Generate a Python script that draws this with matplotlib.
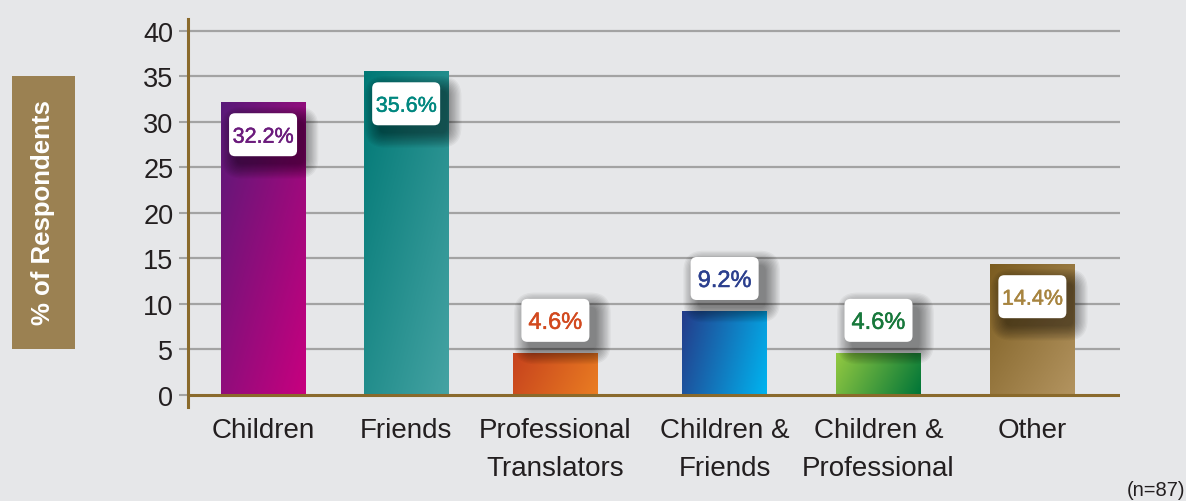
import matplotlib.pyplot as plt
import numpy as np
from matplotlib.colors import LinearSegmentedColormap
from matplotlib.patches import Rectangle, FancyBboxPatch
from matplotlib.transforms import IdentityTransform
import matplotlib.patheffects as pe

categories = ['Children', 'Friends', 'Professional\nTranslators', 'Children &\nFriends',
              'Children &\nProfessional', 'Other']
values = [32.2, 35.6, 4.6, 9.2, 4.6, 14.4]
labels = ['32.2%', '35.6%', '4.6%', '9.2%', '4.6%', '14.4%']
yticks = [0, 5, 10, 15, 20, 25, 30, 35, 40]

# gradient (start, end) for each bar and the label text colour
grad_colors = [('#581a78', '#c8007f'), ('#007875', '#45a3a3'), ('#c6421d', '#ea7d22'),
               ('#243c8a', '#00b4f0'), ('#93c941', '#007538'), ('#7b5c20', '#b39460')]
grad_dirs = ['diag', 'diag', 'horiz', 'horiz', 'horiz', 'diag']
text_colors = ['#6b1b7c', '#00877f', '#d2491e', '#2b3f8e', '#17783b', '#a7843f']

bg = '#e6e7e9'
brown = '#8a6a2c'

plt.rcParams['font.family'] = ['Liberation Sans', 'DejaVu Sans']

fig = plt.figure(figsize=(11.86, 5.02), dpi=100, facecolor=bg)
ax = fig.add_axes([0.1585, 0.1873, 0.9444 - 0.1585, 0.9602 - 0.1873])
ax.set_facecolor(bg)

# bar centres as laid out in the original (slightly uneven)
x = np.array([0, 0.93, 1.90, 3.0, 4.0, 5.0])
width = 0.55

for t in yticks[1:]:
    ax.axhline(t, color='#a3a3a3', lw=1.6, zorder=1)
ax.axhline(0, color=brown, lw=2.2, zorder=4)

bars = ax.bar(x, values, width=width, color='none', zorder=2)

gx, gy = np.meshgrid(np.linspace(0, 1, 100), np.linspace(0, 1, 100))
for i, b in enumerate(bars):
    if grad_dirs[i] == 'diag':
        g = gx * 0.5 + gy * 0.5
    else:
        g = gx * 0.8 + gy * 0.2
    cmap = LinearSegmentedColormap.from_list('g%d' % i, grad_colors[i])
    x0, y0 = b.get_x(), b.get_y()
    w, h = b.get_width(), b.get_height()
    im = ax.imshow(g, cmap=cmap, extent=[x0, x0 + w, y0, y0 + h], origin='upper',
                   aspect='auto', zorder=2, interpolation='bilinear')
    im.set_clip_path(Rectangle((x0, y0), w, h, transform=ax.transData))

ax.set_xlim(-0.488, 5.57)
ax.set_ylim(-1.32, 41.32)

# value labels: white rounded boxes with a soft shadow, sized in pixels
bw, bh = 68, 43
for i, v in enumerate(values):
    ly = v - 3.6 if v > 12 else v + 3.6
    cx, cy = ax.transData.transform((x[i], ly))
    for k in range(12):
        e = k * 1.3
        sh = FancyBboxPatch((cx - bw / 2 + 7 - e, cy - bh / 2 - 8 - e), bw + 2 * e, bh + 2 * e,
                            boxstyle='round,pad=0,rounding_size=%f' % (6 + e),
                            transform=IdentityTransform(), fc='black', ec='none',
                            alpha=0.045, zorder=5)
        ax.add_patch(sh)
    box = FancyBboxPatch((cx - bw / 2, cy - bh / 2), bw, bh,
                         boxstyle='round,pad=0,rounding_size=6',
                         transform=IdentityTransform(), fc='white', ec='none', zorder=6)
    ax.add_patch(box)
    fs = 17 if len(labels[i]) < 5 else 15.5
    ax.text(x[i], ly, labels[i], fontsize=fs, color=text_colors[i], ha='center',
            va='center_baseline', zorder=7,
            path_effects=[pe.withStroke(linewidth=0.35, foreground=text_colors[i])])

ax.set_yticks(yticks)
ax.set_xticks(x)
ax.set_xticklabels(categories, linespacing=1.6)
ax.tick_params(axis='y', length=6.5, width=1.5, color='#a3a3a3', labelsize=19.5,
               labelcolor='#231f20', pad=4)
ax.tick_params(axis='x', length=0, labelsize=20, labelcolor='#231f20', pad=7)

for s in ['top', 'right', 'bottom']:
    ax.spines[s].set_visible(False)
ax.spines['left'].set_color(brown)
ax.spines['left'].set_linewidth(2.2)

# y label in tan box
fig.patches.append(Rectangle((12 / 1186, 1 - 350 / 502), 63 / 1186, 273 / 502,
                             transform=fig.transFigure, fc='#9b8152', ec='none'))
fig.text(43.5 / 1186, 1 - 213 / 502, '% of Respondents', rotation=90, color='white',
         fontsize=18.5, fontweight='bold', ha='center', va='center')

fig.text(0.999, 0.004, '(n=87)', ha='right', va='bottom', fontsize=14.5, color='#231f20')

fig.savefig('out.png', dpi=100, facecolor=bg)
